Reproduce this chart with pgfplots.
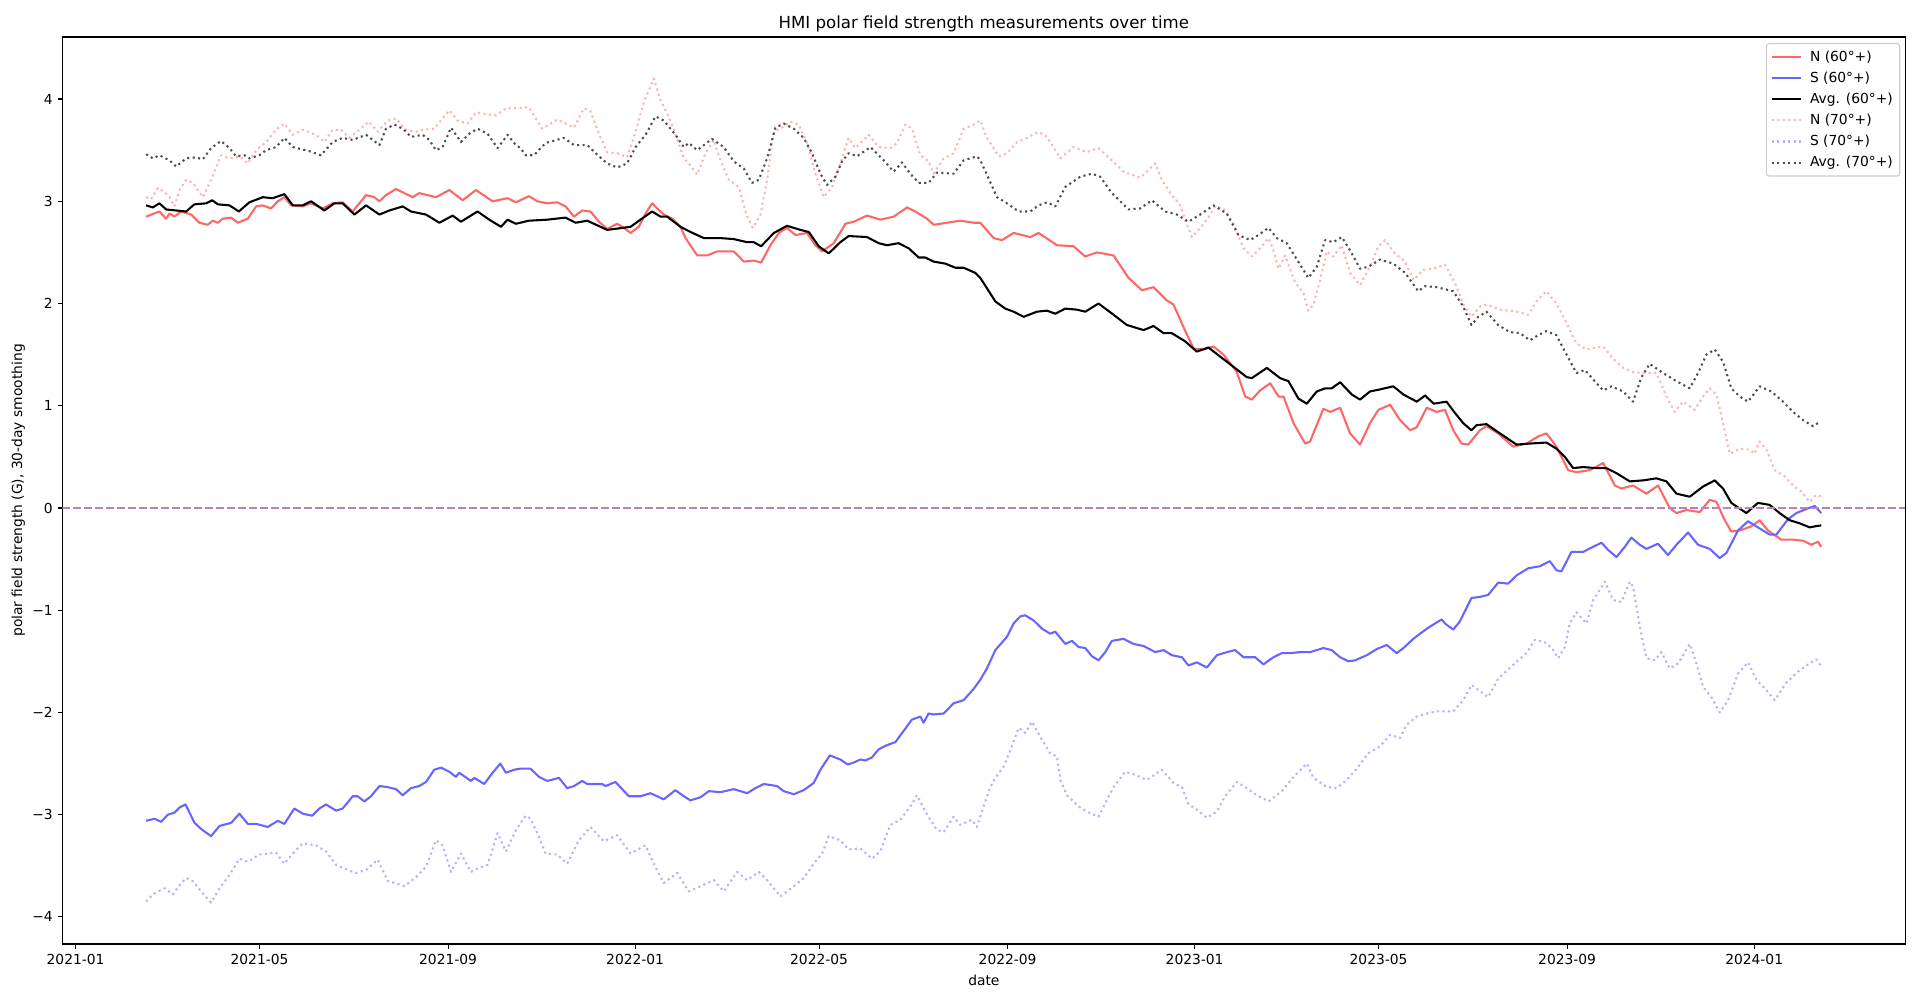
\documentclass[border=0pt]{standalone}
\usepackage{fontspec}
\setmainfont{DejaVu Sans}
\usepackage{pgfplots}
\usepackage{pgfplotstable}
\pgfplotsset{compat=1.18}

\definecolor{nsix}{RGB}{255,102,102}
\definecolor{ssix}{RGB}{102,102,255}
\definecolor{nsev}{RGB}{255,178,178}
\definecolor{ssev}{RGB}{178,178,255}
\definecolor{asev}{RGB}{77,77,77}
\definecolor{zline}{RGB}{191,127,191}

% x = days since 2021-01-01, y = polar field (G)
\pgfplotstableread{
day val
46 2.85
54.7 2.90
59 2.83
61.3 2.88
64.5 2.85
68.9 2.90
75.4 2.87
80.8 2.79
86.2 2.77
89.5 2.81
92.8 2.79
96 2.83
101.5 2.84
105.8 2.79
112.3 2.83
117.8 2.95
122 2.96
127.5 2.93
131.9 3.00
136.2 3.04
140.6 2.96
148.2 2.95
153.6 2.98
161.2 2.93
167.7 2.98
174.2 2.99
180.8 2.90
185.1 2.98
189.5 3.06
194.9 3.04
198.2 3.00
202.5 3.06
209 3.12
219.9 3.04
224.2 3.08
235.1 3.04
243.8 3.11
252.5 3.01
261.2 3.11
272 3.00
281.8 3.03
287.2 2.99
295.7 3.05
301.2 3.00
307.7 2.98
314.2 2.99
319.6 2.95
325.1 2.85
330.5 2.91
335.9 2.90
341.4 2.80
346.8 2.73
353.3 2.78
357.7 2.74
362 2.69
367.4 2.75
371.8 2.88
376.1 2.98
379.4 2.93
383.7 2.87
389.2 2.83
394.6 2.75
397.9 2.64
405.5 2.47
412 2.47
418.5 2.51
429.4 2.51
435.9 2.41
442.4 2.42
447.2 2.40
453.3 2.57
458.7 2.69
464.1 2.74
469.6 2.67
477.2 2.69
482.6 2.57
487 2.51
494.6 2.59
502.2 2.78
507.6 2.80
516.3 2.86
525 2.82
533.7 2.85
542.4 2.94
547.8 2.90
555.4 2.83
559.8 2.77
568.4 2.79
577.1 2.81
586 2.79
590.2 2.79
598.9 2.64
604.3 2.62
611.9 2.69
622.8 2.65
628.2 2.69
640.2 2.57
651 2.56
658.6 2.46
666.3 2.50
677.1 2.47
686.9 2.25
695.6 2.13
703.2 2.16
711.9 2.03
716.2 1.99
722.7 1.77
729.3 1.56
735.8 1.55
742.3 1.58
748.8 1.50
757.5 1.33
763 1.09
767.3 1.06
772.7 1.15
779.3 1.22
784.7 1.09
788 1.09
794.5 0.83
802.1 0.63
805.3 0.65
814 0.97
818.4 0.94
824.9 0.98
831.4 0.73
837.9 0.62
844.4 0.83
849.9 0.96
857.5 1.01
864 0.86
870.5 0.76
874.9 0.79
881.4 0.98
887.9 0.94
893.3 0.96
898.7 0.76
904.1 0.63
908.5 0.62
916.1 0.76
920.4 0.80
928 0.73
937.8 0.60
946.5 0.63
954.1 0.70
959.5 0.73
966 0.60
973.7 0.37
979.1 0.35
987.8 0.37
996.5 0.44
1004.1 0.22
1008.4 0.19
1016 0.22
1024.7 0.14
1032.3 0.22
1039.9 0.00
1044.3 -0.05
1050.8 -0.02
1059.5 -0.04
1066 0.08
1070.4 0.06
1075.8 -0.12
1080.1 -0.23
1085.6 -0.22
1093.2 -0.18
1098.6 -0.12
1104 -0.22
1112.7 -0.31
1120.3 -0.31
1126.9 -0.32
1132.3 -0.36
1136.6 -0.33
1138.8 -0.38
}\nsixtbl

\pgfplotstableread{
day val
46 -3.06
51.5 -3.04
55.8 -3.07
60.2 -3.00
64.5 -2.98
67.8 -2.93
71.7 -2.90
77.6 -3.08
81.9 -3.14
88.4 -3.21
93.9 -3.11
101.5 -3.08
106.9 -2.99
112.3 -3.09
117.8 -3.09
125.4 -3.12
131.9 -3.06
136.2 -3.09
142.7 -2.94
148.2 -2.99
154.3 -3.01
159 -2.94
163.4 -2.90
169.9 -2.96
174.2 -2.94
180.8 -2.82
184 -2.82
188.4 -2.87
192.7 -2.82
198.2 -2.72
203.6 -2.73
209 -2.75
213.4 -2.81
218.8 -2.74
224.2 -2.72
228.6 -2.68
234 -2.56
238.4 -2.54
243.8 -2.58
248.1 -2.63
250.3 -2.59
257.9 -2.67
260.1 -2.64
266.6 -2.70
272 -2.59
277.1 -2.50
280.7 -2.59
286.2 -2.56
290.3 -2.55
296.8 -2.55
302.3 -2.63
307.7 -2.67
315.3 -2.64
320.7 -2.74
325.1 -2.72
330.5 -2.67
333.8 -2.70
343.5 -2.70
345.7 -2.72
352.2 -2.68
360.9 -2.82
368.5 -2.82
375 -2.79
379.4 -2.82
383.7 -2.85
391.3 -2.76
396.8 -2.82
401.1 -2.86
407.6 -2.83
413.1 -2.77
420.7 -2.78
429.4 -2.75
438.1 -2.79
443.5 -2.74
448.9 -2.70
457.6 -2.72
462 -2.77
468.5 -2.80
475 -2.76
481.5 -2.69
485.9 -2.56
492 -2.42
498.9 -2.46
503.7 -2.51
507.6 -2.49
511.9 -2.46
515.2 -2.47
519.5 -2.44
523.9 -2.36
529.3 -2.32
534.8 -2.29
540.2 -2.18
545.6 -2.07
551.1 -2.04
553.2 -2.10
556.5 -2.01
559.7 -2.02
566.3 -2.01
572.8 -1.91
579.3 -1.88
585.8 -1.77
590.2 -1.68
594.5 -1.57
600 -1.39
607.6 -1.26
611.9 -1.13
616.3 -1.06
619.5 -1.05
625 -1.10
630.4 -1.18
635.8 -1.23
639.1 -1.21
645.6 -1.33
650 -1.30
654.3 -1.36
658.7 -1.37
663 -1.45
667.3 -1.49
671.7 -1.41
676 -1.30
683.6 -1.28
690.2 -1.33
696.7 -1.35
704.3 -1.41
709.7 -1.39
715.1 -1.44
721.7 -1.46
726 -1.54
731.4 -1.51
738 -1.56
744.5 -1.44
751 -1.41
756.4 -1.39
761.9 -1.46
769.5 -1.46
774.9 -1.53
781.4 -1.46
786.9 -1.42
792.3 -1.42
798.8 -1.41
805.3 -1.41
814 -1.37
819.4 -1.39
824.9 -1.46
830.3 -1.50
834.7 -1.49
842.3 -1.44
848.8 -1.38
855.3 -1.34
861.8 -1.42
866.2 -1.37
872.7 -1.28
877 -1.23
882.5 -1.17
887.9 -1.12
891.2 -1.09
893.3 -1.13
898.7 -1.19
903 -1.11
910.6 -0.88
916.1 -0.87
921.5 -0.85
928 -0.73
934.5 -0.74
940 -0.66
947.6 -0.59
955.2 -0.57
961.7 -0.52
966.1 -0.61
969.3 -0.62
975.8 -0.43
983.4 -0.43
989.9 -0.38
995.4 -0.34
999.7 -0.41
1005.2 -0.48
1010.6 -0.38
1014.9 -0.29
1020.4 -0.36
1024.7 -0.40
1032.3 -0.35
1038.8 -0.46
1044.3 -0.36
1051.9 -0.24
1058.4 -0.36
1066 -0.40
1072.5 -0.49
1076.9 -0.44
1084.5 -0.22
1091 -0.13
1097.5 -0.19
1105.1 -0.26
1109.5 -0.26
1117.1 -0.11
1122.5 -0.05
1129 -0.01
1134.5 0.02
1138.8 -0.05
}\ssixtbl

\pgfplotstableread{
day val
46 2.96
50.4 2.94
54.7 2.98
59.1 2.92
65.6 2.91
72.1 2.90
77.5 2.97
85.2 2.98
89.1 3.01
92.8 2.97
100.4 2.96
106.5 2.90
113.4 2.99
122.1 3.04
128.6 3.03
136.2 3.07
141.7 2.96
148.2 2.96
153.6 3.00
162.3 2.91
168.8 2.98
174.2 2.98
181.9 2.87
189.5 2.96
198.2 2.87
204.7 2.91
213.4 2.95
218.8 2.90
228.6 2.87
237.3 2.79
246 2.86
251.4 2.80
262.2 2.90
269.9 2.82
277.5 2.75
281.8 2.82
287.2 2.78
295.7 2.81
307.7 2.82
319.6 2.84
326.2 2.79
333.8 2.81
346.8 2.72
362 2.75
368.5 2.82
376.1 2.90
381.6 2.85
385.9 2.85
394.6 2.75
401.1 2.70
409.8 2.64
420.7 2.64
429.4 2.63
438.1 2.60
442.4 2.60
447.2 2.56
455.5 2.69
464.1 2.76
472.8 2.72
478.3 2.70
484.8 2.56
491.3 2.49
498.9 2.60
504.3 2.66
516.3 2.65
523.9 2.59
529.3 2.57
536.9 2.59
543.5 2.54
550 2.45
554.3 2.45
559.7 2.41
567.4 2.39
573.9 2.35
579.3 2.35
586.9 2.30
590.2 2.25
594.5 2.15
600 2.02
606.5 1.95
611.9 1.92
618.5 1.87
627.1 1.92
633.7 1.93
639.1 1.90
645.6 1.95
653.2 1.94
658.7 1.92
667.3 2.00
677.1 1.89
685.8 1.79
696.7 1.74
703.2 1.78
709.7 1.71
715.1 1.71
723.8 1.63
731.4 1.53
739 1.57
746.7 1.48
755.4 1.38
764 1.28
767.3 1.27
777.1 1.37
785.8 1.27
791.2 1.24
797.7 1.07
803.2 1.02
809.7 1.14
815.1 1.17
819.4 1.17
824.9 1.23
832.5 1.11
837.9 1.06
844.4 1.14
851 1.16
859.6 1.19
866.2 1.11
874.9 1.04
880.3 1.10
886 1.02
894.3 1.04
899.8 0.93
905.2 0.83
910.6 0.76
913.9 0.81
920.4 0.82
929.1 0.73
940 0.62
948.7 0.63
959.5 0.64
966 0.58
971.5 0.50
976.9 0.39
983.4 0.40
992.1 0.39
998.6 0.39
1005.2 0.34
1013.9 0.26
1022.6 0.27
1031.2 0.29
1037.8 0.26
1044.3 0.14
1053 0.11
1061.7 0.21
1069.3 0.27
1074.7 0.19
1080.1 0.05
1089.9 -0.05
1097.5 0.05
1105.1 0.03
1111.6 -0.05
1118.2 -0.12
1124.7 -0.15
1131.2 -0.19
1134.5 -0.18
1138.8 -0.17
}\asixtbl

\pgfplotstableread{
day val
46 3.04
49.3 3.02
53.6 3.13
58 3.09
61.3 3.04
64.5 2.95
67.8 3.11
72.1 3.21
76.5 3.18
83 3.04
88.4 3.21
94.9 3.45
100.4 3.42
106.9 3.44
112.3 3.37
117.8 3.50
124.3 3.58
130.8 3.70
136.2 3.76
141.7 3.65
148.2 3.70
156.9 3.65
162.3 3.58
167.7 3.70
173.2 3.70
178.6 3.62
185.1 3.70
191.2 3.78
197.1 3.68
203.6 3.79
209 3.81
215.5 3.70
222 3.68
226.4 3.70
234 3.71
239.4 3.81
243.8 3.89
249.2 3.79
255.7 3.76
261.2 3.87
268.8 3.85
274.2 3.84
280.7 3.91
287.2 3.91
295.7 3.92
304.4 3.71
308.8 3.75
314.2 3.80
319.6 3.76
325.1 3.72
331.6 3.91
335.9 3.88
341.4 3.66
346.8 3.48
353.3 3.47
359.8 3.43
365.3 3.68
370.7 3.97
377.2 4.20
381.6 3.99
385.9 3.86
391.3 3.66
396.8 3.42
401.1 3.35
405.5 3.26
410.9 3.47
416.3 3.60
420.7 3.40
426.1 3.21
432.6 3.14
438.1 2.85
441.8 2.74
446.8 2.87
451.1 3.21
455.4 3.68
462 3.73
466.3 3.78
471.7 3.75
477.2 3.57
482.6 3.27
488 3.04
493.5 3.14
498.9 3.37
504.3 3.62
508.7 3.52
517.4 3.65
523.9 3.53
531.5 3.52
535.9 3.57
541.3 3.75
545.6 3.71
551.1 3.45
556.5 3.39
559.7 3.27
566.3 3.42
572.8 3.47
579.3 3.71
585.8 3.75
590.2 3.79
594.5 3.62
602.2 3.44
607.6 3.47
614.1 3.58
620.6 3.62
628.2 3.68
633.7 3.63
642.4 3.42
651 3.53
659.7 3.48
667.3 3.52
676 3.40
683.6 3.29
694.5 3.23
698.9 3.29
704.3 3.37
708.6 3.21
714.1 3.08
720.6 2.96
723.8 2.82
728.2 2.65
732.5 2.72
738 2.82
743.4 2.95
748.8 2.93
755.3 2.78
761.9 2.54
767.3 2.46
772.7 2.54
778.2 2.64
781.4 2.52
784.7 2.34
789 2.47
795.5 2.21
801 2.10
804.2 1.93
807.5 1.99
811.9 2.23
816.2 2.51
820.5 2.46
826 2.57
831.4 2.30
837.9 2.18
844.4 2.36
849.9 2.56
854.2 2.62
860.7 2.49
867.3 2.41
872.7 2.23
879.2 2.33
885.7 2.34
893.3 2.38
899.8 2.20
905.2 2.00
910.6 1.87
916.1 1.97
920.4 1.99
929.1 1.94
940 1.92
947.6 1.89
953 2.02
959.5 2.12
966 2.00
972.6 1.81
979.1 1.61
985.6 1.55
996.5 1.58
1003 1.46
1009.5 1.37
1016 1.33
1023.6 1.32
1031.2 1.32
1037.8 1.09
1043.2 0.94
1048.6 1.04
1056.2 0.96
1061.7 1.09
1066 1.17
1070.4 1.11
1074.7 0.83
1079.1 0.53
1085.6 0.58
1092.1 0.57
1095.3 0.53
1098.6 0.65
1103 0.57
1108.4 0.37
1114.9 0.31
1120.3 0.22
1125.8 0.16
1131.2 0.06
1135.5 0.13
1138.8 0.11
}\nsevtbl

\pgfplotstableread{
day val
46 -3.85
50.4 -3.78
58 -3.72
63.4 -3.78
67.8 -3.69
72.1 -3.62
76.5 -3.65
83 -3.77
88.4 -3.86
93.9 -3.72
100.4 -3.59
106.9 -3.43
112.3 -3.46
119.9 -3.39
130.8 -3.37
136.2 -3.48
141.7 -3.38
148.2 -3.28
156.9 -3.30
163.4 -3.36
169.9 -3.49
177.5 -3.54
182.9 -3.57
189.5 -3.54
197.1 -3.44
203.6 -3.65
209 -3.67
214.5 -3.70
222.1 -3.61
228.6 -3.51
235.1 -3.25
239.4 -3.30
244.9 -3.56
251.4 -3.38
257.9 -3.56
263.3 -3.52
268.8 -3.49
275.3 -3.18
280.7 -3.36
287.2 -3.15
293.6 -3.01
296.8 -3.04
301.2 -3.18
306.6 -3.38
314.2 -3.39
320.7 -3.48
328.3 -3.25
335.9 -3.12
344.6 -3.26
353.3 -3.20
362 -3.38
371.8 -3.30
377.2 -3.48
383.7 -3.67
392.4 -3.57
400 -3.75
407.6 -3.70
416.3 -3.64
422.8 -3.75
431.5 -3.56
438.1 -3.64
445.7 -3.56
451.1 -3.64
459.8 -3.80
468.5 -3.70
475 -3.62
481.5 -3.48
487 -3.38
491.3 -3.21
498.9 -3.25
504.3 -3.34
511.9 -3.33
519.5 -3.43
524.9 -3.36
531.5 -3.10
538 -3.05
544.5 -2.92
548.9 -2.81
554.3 -2.97
561.9 -3.15
566.3 -3.17
572.8 -3.02
577.1 -3.10
584.7 -3.05
588 -3.12
592.3 -2.92
596.7 -2.73
600 -2.64
605.4 -2.53
609.8 -2.37
615.2 -2.15
619.5 -2.20
623.9 -2.09
629.3 -2.24
635.8 -2.40
640.2 -2.43
642.4 -2.66
646.7 -2.81
654.4 -2.92
659.7 -2.97
667.3 -3.02
671.7 -2.89
677.1 -2.73
684.7 -2.58
691.2 -2.61
698.9 -2.66
708.6 -2.56
716.2 -2.69
721.7 -2.73
726 -2.90
731.4 -2.95
738 -3.03
744.5 -2.97
749.9 -2.82
757.5 -2.68
764 -2.74
770.6 -2.81
778.2 -2.87
786.9 -2.77
794.5 -2.63
803.2 -2.50
807.5 -2.64
816.2 -2.73
822.7 -2.74
829.2 -2.66
835.8 -2.55
843.3 -2.40
851 -2.33
857.5 -2.22
864 -2.25
868.3 -2.12
874.9 -2.04
881.4 -2.01
887.9 -1.99
898.7 -1.99
905.2 -1.88
910.6 -1.73
915 -1.78
921.5 -1.85
928 -1.67
934.5 -1.58
941.1 -1.49
946.5 -1.42
951.9 -1.29
959.5 -1.32
963.9 -1.39
967.1 -1.47
971.5 -1.36
974.7 -1.13
979.1 -1.02
985.6 -1.13
990 -0.90
994.3 -0.80
997.6 -0.72
1003 -0.90
1008.4 -0.92
1013.9 -0.72
1016 -0.77
1020.4 -1.16
1024.7 -1.47
1030.2 -1.49
1034.5 -1.41
1040 -1.57
1045.4 -1.52
1053 -1.33
1057.3 -1.52
1061.7 -1.75
1067.1 -1.85
1072.5 -2.00
1078 -1.88
1084.5 -1.62
1091 -1.51
1096.4 -1.68
1102.9 -1.78
1108.4 -1.88
1116 -1.71
1123.6 -1.60
1131.2 -1.52
1135.5 -1.48
1138.8 -1.55
}\ssevtbl

\pgfplotstableread{
day val
46 3.46
50.4 3.42
54.7 3.45
61.3 3.40
65.6 3.34
72.1 3.42
78.6 3.43
83 3.41
88.4 3.52
94.9 3.59
100.4 3.52
104.7 3.44
110.1 3.45
113.4 3.42
119.9 3.45
124.3 3.50
130.8 3.53
136.2 3.62
141.7 3.53
152.5 3.49
160.1 3.45
167.7 3.58
174.2 3.62
180.8 3.60
189.5 3.65
198.2 3.55
202.5 3.71
208 3.75
213.4 3.71
218.8 3.63
226.4 3.65
230.7 3.60
235.1 3.50
239.4 3.53
244.9 3.72
251.4 3.58
256.8 3.66
262.2 3.71
268.8 3.66
275.3 3.52
281.8 3.65
287.2 3.55
290.3 3.52
293.6 3.45
299 3.45
306.6 3.57
318.5 3.62
325.1 3.55
333.8 3.55
341.4 3.44
346.8 3.37
353.3 3.33
359.8 3.37
365.3 3.53
371.8 3.65
378.3 3.83
383.7 3.79
391.3 3.65
396.8 3.53
400 3.57
405.5 3.50
415.2 3.61
422.8 3.53
429.4 3.39
435.9 3.32
441.3 3.18
445.7 3.21
451.1 3.42
456.5 3.72
462 3.76
468.5 3.71
475 3.62
480.4 3.47
485.9 3.27
490.2 3.16
495.7 3.24
500 3.39
504.3 3.47
509.8 3.44
518.5 3.53
527.2 3.40
533.7 3.29
539.1 3.38
544.5 3.27
550 3.18
556.5 3.18
561.9 3.28
572.8 3.27
579.3 3.40
588 3.44
590.2 3.40
594.5 3.26
601.1 3.04
607.6 2.98
615.2 2.90
622.8 2.90
628.2 2.96
633.7 2.99
639.1 2.95
645.6 3.14
655.4 3.24
663 3.27
668.4 3.24
676 3.08
681.5 3.00
686.9 2.92
694.5 2.93
702.1 3.01
710.8 2.90
718.4 2.87
726 2.80
733.6 2.87
742.3 2.96
751 2.88
758.6 2.67
766.2 2.62
771.6 2.67
778.2 2.74
783.6 2.64
790.1 2.59
795.5 2.46
804.2 2.25
809.7 2.36
815.1 2.62
820.5 2.60
826 2.65
831.4 2.52
837.9 2.34
843.4 2.36
851 2.43
859.6 2.39
867.3 2.30
875.9 2.12
880.3 2.17
887.9 2.16
898.7 2.12
905.2 1.97
910.6 1.79
915 1.87
920.4 1.92
928 1.79
935.6 1.72
942.2 1.71
948.7 1.64
954.1 1.69
959.5 1.73
966 1.69
972.6 1.50
979.1 1.32
984.5 1.35
991 1.24
996.5 1.15
1001.9 1.19
1009.5 1.14
1016 1.04
1021.5 1.28
1026.9 1.41
1035.6 1.32
1044.3 1.24
1053 1.17
1058.4 1.32
1063.8 1.50
1069.3 1.55
1074.7 1.43
1080.1 1.17
1085.6 1.09
1091 1.04
1098.6 1.19
1106.2 1.14
1113.8 1.04
1120.3 0.94
1126.9 0.86
1133.4 0.80
1136.6 0.83
1138.8 0.83
}\asevtbl

\begin{document}
\begin{tikzpicture}
\path[use as bounding box] (-0.624in,-0.59in) rectangle (18.576in,9.44in);
\begin{axis}[
    at={(0,0)}, anchor=south west,
    scale only axis,
    width=18.429in, height=9.07in,
    xmin=-8.6, xmax=1193.6,
    ymin=-4.265, ymax=4.607,
    axis line style={line width=0.8pt},
    tick align=outside,
    major tick length=3.5pt,
    tick style={black, line width=0.8pt},
    xtick pos=left, ytick pos=left,
    xtick={0,120,243,365,485,608,730,850,973,1095},
    xticklabels={2021-01,2021-05,2021-09,2022-01,2022-05,2022-09,2023-01,2023-05,2023-09,2024-01},
    ytick={-4,-3,-2,-1,0,1,2,3,4},
    yticklabels={−4,−3,−2,−1,0,1,2,3,4},
    title={HMI polar field strength measurements over time},
    title style={at={(0.5,1.0055)}, anchor=center, yshift=0pt, font=\fontsize{12}{14}\selectfont},
    xlabel={date},
    xlabel style={at={(0.5,-0.0397)}, anchor=center},
    ylabel={polar field strength (G), 30-day smoothing},
    ylabel style={at={(-0.02387,0.5)}, anchor=center},
    legend style={at={(0.9973,0.9934)}, anchor=north east, draw=black!20,
        line width=0.8pt, rounded corners=2pt, fill=white, fill opacity=0.8,
        text opacity=1, nodes={inner ysep=3.1pt}},
    legend cell align=left,
    legend image code/.code={\draw[#1] (0cm,0cm) -- (0.75cm,0cm); \path (0.88cm,0cm);},
    every axis plot/.append style={line width=1.5pt, line join=round},
]
\addplot[nsix] table[x=day, y=val] {\nsixtbl};
\addlegendentry{N (60°+)}
\addplot[ssix] table[x=day, y=val] {\ssixtbl};
\addlegendentry{S (60°+)}
\addplot[black] table[x=day, y=val] {\asixtbl};
\addlegendentry{Avg. (60°+)}
\addplot[nsev, dash pattern=on 1.5pt off 2.475pt] table[x=day, y=val] {\nsevtbl};
\addlegendentry{N (70°+)}
\addplot[ssev, dash pattern=on 1.5pt off 2.475pt] table[x=day, y=val] {\ssevtbl};
\addlegendentry{S (70°+)}
\addplot[asev, dash pattern=on 1.5pt off 2.475pt] table[x=day, y=val] {\asevtbl};
\addlegendentry{Avg. (70°+)}
\addplot[zline, dash pattern=on 5.55pt off 2.4pt, forget plot] coordinates {(-8.6,0) (1193.6,0)};
\end{axis}
\end{tikzpicture}
\end{document}
